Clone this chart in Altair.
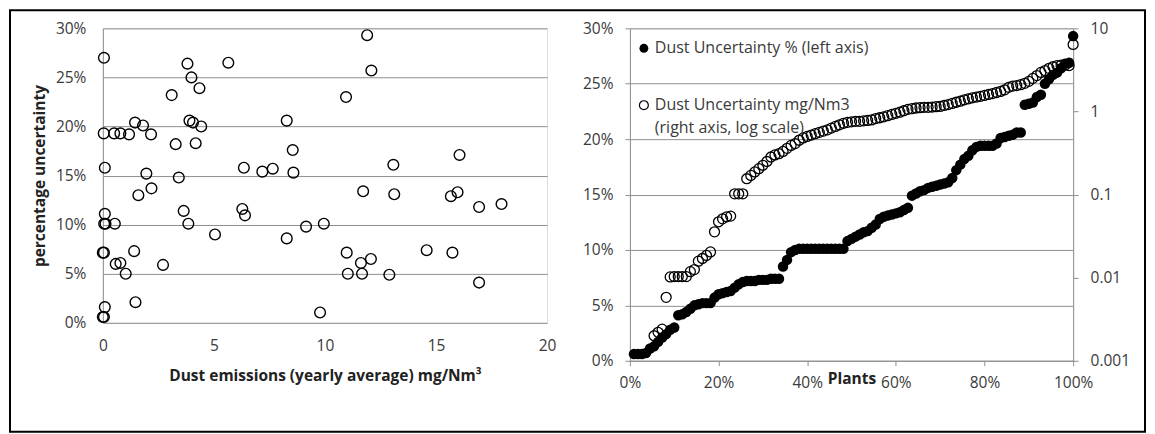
import altair as alt
import pandas as pd

# ---------------- data ----------------
# Left panel: yearly average dust emission (mg/Nm3) vs percentage uncertainty (%)
emission = [0.05, 3.81, 5.65, 3.99, 3.10, 4.35, 3.90, 4.06, 4.43, 8.28,
            0.04, 0.51, 0.79, 1.18, 1.45, 1.81, 2.17, 3.28, 4.18, 8.55,
            0.09, 1.96, 3.42, 6.35, 7.18, 7.65, 8.58, 1.60, 2.19,
            11.90, 12.09, 10.95, 13.08, 16.06, 11.72, 13.12, 15.67, 15.97, 16.94, 17.95,
            0.09, 0.06, 0.12, 0.54, 3.64, 3.85, 6.28, 6.40, 5.05, 8.28,
            0.00, 0.05, 1.41, 0.58, 0.79, 1.03, 2.71, 0.09, 0.00, 0.05, 1.47,
            9.15, 9.95, 10.98, 11.62, 12.07, 11.03, 11.67, 12.90, 14.58, 15.74, 16.94, 9.78]
uncertainty = [27.0, 26.4, 26.5, 25.0, 23.2, 23.9, 20.6, 20.4, 20.0, 20.6,
               19.3, 19.3, 19.3, 19.2, 20.4, 20.1, 19.2, 18.2, 18.3, 17.6,
               15.8, 15.2, 14.8, 15.8, 15.4, 15.7, 15.3, 13.0, 13.7,
               29.3, 25.7, 23.0, 16.1, 17.1, 13.4, 13.1, 12.9, 13.3, 11.8, 12.1,
               11.1, 10.1, 10.1, 10.1, 11.4, 10.1, 11.6, 10.95, 9.0, 8.6,
               7.15, 7.15, 7.3, 6.0, 6.1, 5.0, 5.9, 1.6, 0.6, 0.6, 2.1,
               9.8, 10.1, 7.15, 6.1, 6.5, 5.0, 5.0, 4.9, 7.4, 7.15, 4.1, 1.05]

# Right panel: plants sorted by uncertainty
unc_pct_sorted = [0.6, 0.6, 0.6, 0.7, 1.1, 1.3, 1.7, 2.1, 2.4, 2.8,
                  3.0, 4.1, 4.2, 4.4, 4.7, 5.0, 5.1, 5.2, 5.2, 5.2,
                  5.7, 6.0, 6.1, 6.2, 6.3, 6.6, 6.9, 7.1, 7.2, 7.2,
                  7.2, 7.3, 7.3, 7.3, 7.4, 7.4, 7.4, 8.5, 9.1, 9.8,
                  10.0, 10.1, 10.1, 10.1, 10.1, 10.1, 10.1, 10.1, 10.1, 10.1,
                  10.1, 10.1, 10.1, 10.8, 11.0, 11.2, 11.4, 11.6, 11.7, 12.0,
                  12.3, 12.8, 13.0, 13.1, 13.2, 13.3, 13.4, 13.6, 13.8, 14.9,
                  15.1, 15.3, 15.4, 15.6, 15.7, 15.8, 15.9, 16.0, 16.1, 16.5,
                  17.2, 17.7, 18.2, 18.5, 19.0, 19.3, 19.4, 19.4, 19.4, 19.4,
                  19.6, 20.1, 20.2, 20.3, 20.4, 20.6, 20.6, 23.1, 23.2, 23.3,
                  23.8, 24.0, 25.0, 25.4, 25.8, 26.0, 26.4, 26.8, 26.9, 29.3]
unc_mg_sorted = [None, None, None, None, None, 0.0020, 0.0022, 0.0024, 0.0058, 0.0102,
                 0.0103, 0.0103, 0.0103, 0.0103, 0.0118, 0.0125, 0.0158, 0.017, 0.0185, 0.0204,
                 0.0356, 0.047, 0.051, 0.054, 0.055, 0.102, 0.102, 0.102, 0.155, 0.17,
                 0.187, 0.205, 0.225, 0.25, 0.283, 0.30, 0.31, 0.33, 0.36, 0.39,
                 0.41, 0.45, 0.48, 0.50, 0.52, 0.54, 0.56, 0.58, 0.60, 0.63,
                 0.66, 0.69, 0.72, 0.74, 0.75, 0.76, 0.76, 0.77, 0.78, 0.79,
                 0.82, 0.84, 0.86, 0.89, 0.92, 0.95, 0.98, 1.02, 1.06, 1.08,
                 1.10, 1.11, 1.12, 1.12, 1.13, 1.14, 1.15, 1.18, 1.21, 1.25,
                 1.29, 1.33, 1.38, 1.42, 1.46, 1.49, 1.52, 1.56, 1.60, 1.64,
                 1.69, 1.74, 1.82, 1.95, 2.02, 2.05, 2.10, 2.18, 2.30, 2.50,
                 2.70, 2.95, 3.10, 3.30, 3.45, 3.56, 3.60, 3.60, 3.56, 6.40]

left_y_ticks = [0, 5, 10, 15, 20, 25, 30]
left_x_ticks = [0, 5, 10, 15, 20]
right_x_ticks = [0, 20, 40, 60, 80, 100]
right_log_ticks = [0.001, 0.01, 0.1, 1, 10]

legend_filled = "Dust Uncertainty % (left axis)"
legend_open_1 = "Dust Uncertainty mg/Nm3"
legend_open_2 = "(right axis, log scale)"

# ---------------- style ----------------
FONT = "Open Sans"
GRID = "#8f8f8f"
TXT = "#3a3a3a"
FS = 15.5      # tick labels
TFS = 15.5     # axis titles
LFS = 16       # legend text

left_df = pd.DataFrame({"emission": emission, "unc": uncertainty})
n = len(unc_pct_sorted)
right_df = pd.DataFrame({
    "plant": [(i + 1) / n * 100 for i in range(n)],
    "pct": unc_pct_sorted,
    "mg": unc_mg_sorted,
})

# ---------------- left panel ----------------
left_pts = alt.Chart(left_df).mark_point(
    shape="circle", filled=False, color="black", size=115, strokeWidth=1.4, opacity=1
).encode(
    x=alt.X("emission:Q", scale=alt.Scale(domain=[0, 20], nice=False),
            axis=alt.Axis(values=left_x_ticks, grid=False, ticks=False, domain=False,
                          labelFlush=False, labelPadding=16, labelFontSize=FS, labelColor=TXT,
                          labelFont=FONT,
                          title="Dust emissions (yearly average) mg/Nm³", titleFont=FONT,
                          titleFontSize=TFS, titleFontWeight="bold", titleColor="#222",
                          titleY=53, titleBaseline="middle")),
    y=alt.Y("unc:Q", scale=alt.Scale(domain=[0, 30], nice=False),
            axis=alt.Axis(values=left_y_ticks, labelExpr="datum.value + '%'", grid=True,
                          gridColor=GRID, domainColor=GRID, ticks=False, labelPadding=17,
                          labelFontSize=FS, labelColor=TXT, labelFont=FONT,
                          title="percentage uncertainty", titleFont=FONT, titleFontSize=TFS,
                          titleFontWeight="bold", titleColor="#222",
                          titleX=-63, titleY=147.5, titleBaseline="middle")),
)

frame = alt.Chart(pd.DataFrame({"k": [0]})).mark_rect(
    fillOpacity=0, stroke="black", strokeWidth=2
).encode(x=alt.value(-93), x2=alt.value(1044), y=alt.value(-18), y2=alt.value(404))

left = alt.layer(frame, left_pts).properties(width=445, height=295)

# ---------------- right panel ----------------
x_plant = alt.X("plant:Q", scale=alt.Scale(domain=[0, 100], nice=False),
                axis=alt.Axis(values=right_x_ticks, labelExpr="datum.value + '%'", grid=False,
                              labelFlush=False, tickColor=GRID, tickSize=5, domainColor=GRID,
                              labelPadding=10, labelFontSize=FS, labelColor=TXT, labelFont=FONT,
                              title="Plants", titleFont=FONT, titleFontSize=TFS,
                              titleFontWeight="bold", titleColor="#222",
                              titleY=18, titleBaseline="middle"))

open_pts = alt.Chart(right_df).transform_filter("isValid(datum.mg)").mark_point(
    shape="circle", filled=False, color="black", size=100, strokeWidth=1.3, opacity=1
).encode(
    x=x_plant,
    y=alt.Y("mg:Q", scale=alt.Scale(type="log", domain=[0.001, 10], nice=False),
            axis=alt.Axis(orient="right", values=right_log_ticks, format="~g", grid=False,
                          tickColor=GRID, tickSize=5, domainColor=GRID, labelPadding=12,
                          labelFontSize=FS, labelColor=TXT, labelFont=FONT, title=None)),
)

filled_pts = alt.Chart(right_df).mark_circle(color="black", size=110, opacity=1).encode(
    x=x_plant,
    y=alt.Y("pct:Q", scale=alt.Scale(domain=[0, 30], nice=False),
            axis=alt.Axis(orient="left", values=left_y_ticks, labelExpr="datum.value + '%'",
                          grid=True, gridColor=GRID, domainColor=GRID, tickColor=GRID,
                          tickSize=5, labelPadding=12, labelFontSize=FS, labelColor=TXT,
                          labelFont=FONT, title=None)),
)

leg_df = pd.DataFrame({"k": [0]})
leg_dot = alt.Chart(leg_df).mark_circle(color="black", size=80, opacity=1).encode(
    x=alt.value(14), y=alt.value(20))
leg_ring = alt.Chart(leg_df).mark_point(shape="circle", filled=False, color="black", size=80,
                                        strokeWidth=1.2, opacity=1).encode(
    x=alt.value(14), y=alt.value(77))
leg_t1 = alt.Chart(leg_df).mark_text(align="left", baseline="middle", font=FONT, fontSize=LFS,
                                     color=TXT).encode(
    x=alt.value(25), y=alt.value(20), text=alt.value(legend_filled))
leg_t2 = alt.Chart(leg_df).mark_text(align="left", baseline="middle", font=FONT, fontSize=LFS,
                                     color=TXT).encode(
    x=alt.value(25), y=alt.value(77), text=alt.value(legend_open_1))
leg_t3 = alt.Chart(leg_df).mark_text(align="left", baseline="middle", font=FONT, fontSize=LFS,
                                     color=TXT).encode(
    x=alt.value(25), y=alt.value(100), text=alt.value(legend_open_2))

right = alt.layer(open_pts, filled_pts, leg_dot, leg_ring, leg_t1, leg_t2, leg_t3).resolve_scale(
    y="independent").properties(width=444, height=333)

chart = alt.hconcat(left, right, spacing=83, bounds="flush").properties(
    padding=0
).configure_view(stroke=None).configure(background="white")

chart.save("out.html", embed_options={"renderer": "svg", "actions": False})
